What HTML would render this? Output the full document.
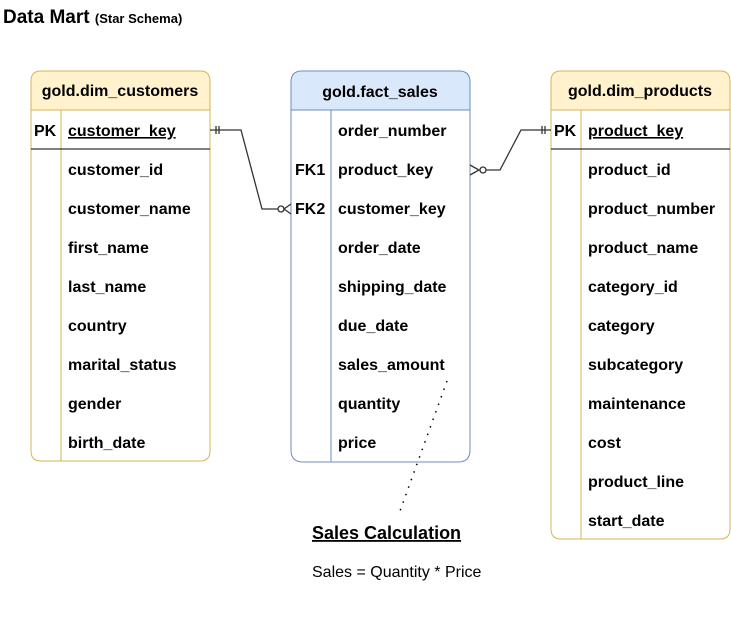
<!DOCTYPE html>
<html><head><meta charset="utf-8"><style>
html,body{margin:0;padding:0;background:#fff;}
svg{display:block;font-family:"Liberation Sans",Arial,sans-serif;}
.t{font-size:16px;font-weight:bold;fill:#000;}
</style></head><body>
<svg width="731" height="633" viewBox="0 0 731 633" xmlns="http://www.w3.org/2000/svg">
<text x="3" y="23" font-size="19" font-weight="bold">Data Mart <tspan font-size="13">(Star Schema)</tspan></text>

<!-- left table -->
<g>
<path d="M31,110 V81 Q31,71 41,71 H200 Q210,71 210,81 V110 Z" fill="#fff2cc" stroke="#d6b656"/>
<path d="M31,110 H210 V451 Q210,461 200,461 H41 Q31,461 31,451 Z" fill="#fff" stroke="#d6b656"/>
<line x1="61" y1="110" x2="61" y2="461" stroke="#d6b656"/>
<line x1="31" y1="149" x2="210" y2="149" stroke="#000"/>
<text x="120" y="96" class="t" text-anchor="middle">gold.dim_customers</text>
<text x="34" y="136" class="t">PK</text>
<text x="68" y="136" class="t" text-decoration="underline">customer_key</text>
<text x="68" y="175" class="t">customer_id</text>
<text x="68" y="214" class="t">customer_name</text>
<text x="68" y="253" class="t">first_name</text>
<text x="68" y="292" class="t">last_name</text>
<text x="68" y="331" class="t">country</text>
<text x="68" y="370" class="t">marital_status</text>
<text x="68" y="409" class="t">gender</text>
<text x="68" y="448" class="t">birth_date</text>
</g>

<!-- middle table -->
<g>
<path d="M291,110 V82 Q291,71 302,71 H459 Q470,71 470,82 V110 Z" fill="#dae8fc" stroke="#6c8ebf"/>
<path d="M291,110 H470 V450 Q470,462 458,462 H303 Q291,462 291,450 Z" fill="#fff" stroke="#6c8ebf"/>
<line x1="331" y1="110" x2="331" y2="462" stroke="#6c8ebf"/>
<text x="380" y="97" class="t" text-anchor="middle">gold.fact_sales</text>
<text x="338" y="136" class="t">order_number</text>
<text x="295" y="175" class="t">FK1</text>
<text x="338" y="175" class="t">product_key</text>
<text x="295" y="214" class="t">FK2</text>
<text x="338" y="214" class="t">customer_key</text>
<text x="338" y="253" class="t">order_date</text>
<text x="338" y="292" class="t">shipping_date</text>
<text x="338" y="331" class="t">due_date</text>
<text x="338" y="370" class="t">sales_amount</text>
<text x="338" y="409" class="t">quantity</text>
<text x="338" y="448" class="t">price</text>
</g>

<!-- right table -->
<g>
<path d="M551,110 V81 Q551,71 561,71 H720 Q730,71 730,81 V110 Z" fill="#fff2cc" stroke="#d6b656"/>
<path d="M551,110 H730 V529 Q730,539 720,539 H561 Q551,539 551,529 Z" fill="#fff" stroke="#d6b656"/>
<line x1="581" y1="110" x2="581" y2="539" stroke="#d6b656"/>
<line x1="551" y1="149" x2="730" y2="149" stroke="#000"/>
<text x="640" y="96" class="t" text-anchor="middle">gold.dim_products</text>
<text x="554" y="136" class="t">PK</text>
<text x="588" y="136" class="t" text-decoration="underline">product_key</text>
<text x="588" y="175" class="t">product_id</text>
<text x="588" y="214" class="t">product_number</text>
<text x="588" y="253" class="t">product_name</text>
<text x="588" y="292" class="t">category_id</text>
<text x="588" y="331" class="t">category</text>
<text x="588" y="370" class="t">subcategory</text>
<text x="588" y="409" class="t">maintenance</text>
<text x="588" y="448" class="t">cost</text>
<text x="588" y="487" class="t">product_line</text>
<text x="588" y="526" class="t">start_date</text>
</g>

<!-- connector left -->
<g stroke="#333" fill="none" stroke-width="1.3">
<path d="M210,130 H241 L262,209 H278"/>
<line x1="216" y1="126" x2="216" y2="134"/>
<line x1="219" y1="126" x2="219" y2="134"/>
<circle cx="281" cy="209" r="3" fill="#fff"/>
<path d="M291,204 L284,209 L291,214"/>
</g>
<!-- connector right -->
<g stroke="#333" fill="none" stroke-width="1.3">
<path d="M551,130 H521 L500,170 H486"/>
<line x1="542" y1="126" x2="542" y2="134"/>
<line x1="545" y1="126" x2="545" y2="134"/>
<circle cx="483" cy="170" r="3" fill="#fff"/>
<path d="M470,165 L479,170 L470,175"/>
</g>

<!-- dotted annotation -->
<line x1="447" y1="381" x2="400" y2="511" stroke="#000" stroke-width="1.5" stroke-dasharray="1.5,6.5"/>
<text x="312" y="539" font-size="18" font-weight="bold" text-decoration="underline">Sales Calculation</text>
<text x="312" y="577" font-size="16">Sales = Quantity * Price</text>
</svg>
</body></html>
